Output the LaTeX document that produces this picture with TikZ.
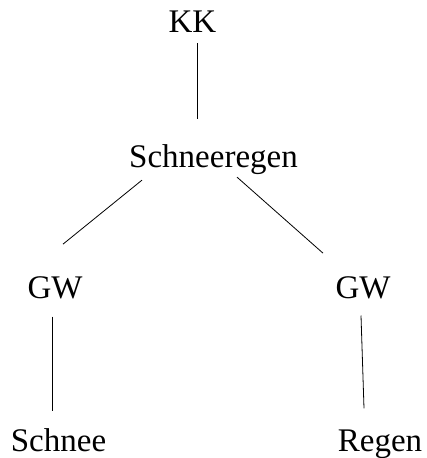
\documentclass[tikz,border=0pt]{standalone}
\usepackage{fontspec}
\setmainfont{Liberation Serif}
\usetikzlibrary{calc}

\begin{document}
\begin{tikzpicture}[x=1pt, y=-1pt,% styles used in image code
word/.style = {anchor=base, inner sep=0pt, outer sep=0pt,
               font=\fontsize{33}{39}\selectfont},
edge/.style = {draw, line width=0.8pt}
                   ]
	\useasboundingbox (0,0) rectangle (427,458);
	% words of the tree
	\node[word] (kk) at (192.5,32)  {KK};
	\node[word] (sr) at (213.5,167) {Schneeregen};
	\node[word] (gwl) at (55,298)   {GW};
	\node[word] (gwr) at (363,298)  {GW};
	\node[word] (sn) at (58.5,451)  {Schnee};
	\node[word] (rg) at (380,451)   {Regen};

	% connectors
	\draw[edge] ($(kk.south)+(4.5,11)$) -- ($(sr.north)+(-16.5,-25)$);
	\draw[edge] ($(sr.south)+(-71.5,6)$)  -- ($(gwl.north)+(8,-32)$);
	\draw[edge] ($(sr.south)+(23.5,3)$)   -- ($(gwr.north)+(-40,-23)$);
	\draw[edge] ($(gwl.south)+(-3,18)$) -- ($(sn.north)+(-6.5,-17)$);
	\draw[edge] ($(gwr.south)+(-2,17)$) -- ($(rg.north)+(-16,-21)$);
\end{tikzpicture}
\end{document}
